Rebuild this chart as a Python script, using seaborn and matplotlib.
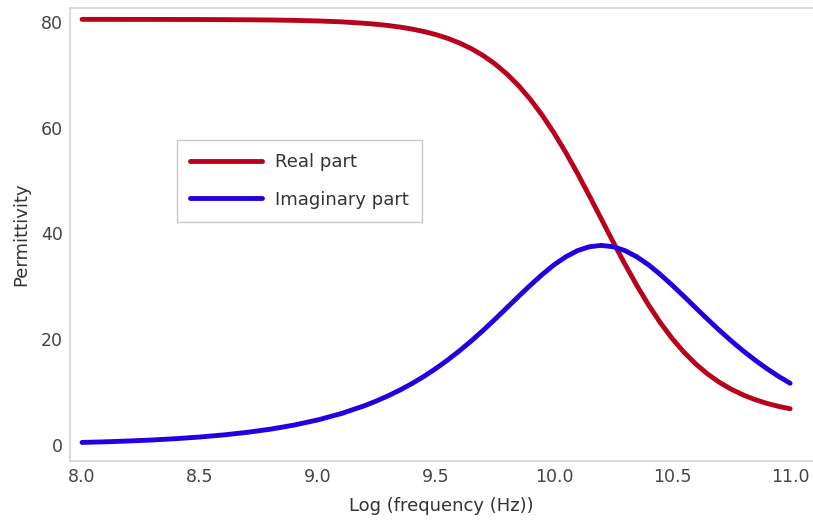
import matplotlib
matplotlib.use("Agg")
import matplotlib.pyplot as plt
import seaborn as sns
import pandas as pd

# Dielectric spectrum of water: real and imaginary permittivity vs log10(frequency)
log_freq = [8.0, 8.1, 8.2, 8.3, 8.4, 8.5, 8.6, 8.7, 8.8, 8.9, 9.0, 9.1, 9.2,
            9.25, 9.3, 9.35, 9.4, 9.45, 9.5, 9.55, 9.6, 9.65, 9.7, 9.75, 9.8,
            9.85, 9.9, 9.95, 10.0, 10.05, 10.1, 10.15, 10.2, 10.25, 10.3, 10.35,
            10.4, 10.45, 10.5, 10.55, 10.6, 10.65, 10.7, 10.75, 10.8, 10.85,
            10.9, 10.95, 11.0]

real_part = [80.50, 80.50, 80.49, 80.49, 80.48, 80.47, 80.45, 80.42, 80.38,
             80.31, 80.20, 80.03, 79.75, 79.56, 79.32, 79.02, 78.65, 78.19,
             77.61, 76.90, 76.02, 74.94, 73.64, 72.06, 70.17, 67.94, 65.34,
             62.36, 59.00, 55.29, 51.29, 47.08, 42.75, 38.42, 34.21, 30.21,
             26.50, 23.14, 20.16, 17.56, 15.33, 13.44, 11.86, 10.56, 9.48,
             8.60, 7.89, 7.31, 6.85]

imag_part = [0.48, 0.60, 0.76, 0.95, 1.20, 1.51, 1.90, 2.39, 3.00, 3.78, 4.75,
             5.96, 7.48, 8.37, 9.36, 10.46, 11.67, 13.01, 14.49, 16.10, 17.84,
             19.71, 21.70, 23.79, 25.95, 28.12, 30.24, 32.25, 34.08, 35.60,
             36.77, 37.50, 37.75, 37.50, 36.77, 35.60, 34.08, 32.25, 30.24,
             28.12, 25.94, 23.79, 21.70, 19.71, 17.84, 16.10, 14.49, 13.01,
             11.67]

series_names = ["Real part", "Imaginary part"]
series_colors = ["#b8021c", "#2000e0"]
x_ticks = [8.0, 8.5, 9.0, 9.5, 10.0, 10.5, 11.0]
y_ticks = [0, 20, 40, 60, 80]

df = pd.DataFrame({
    "logf": log_freq * 2,
    "value": real_part + imag_part,
    "part": [series_names[0]] * len(log_freq) + [series_names[1]] * len(log_freq),
})

sns.set_theme(style="white")
plt.rcParams["font.family"] = ["DejaVu Sans"]

fig = plt.figure(figsize=(8.13, 5.23), dpi=100)
ax = fig.add_axes([70 / 813, 62 / 523, 743 / 813, 453 / 523])

sns.lineplot(data=df, x="logf", y="value", hue="part", hue_order=series_names,
             palette=series_colors, linewidth=3.5, ax=ax, legend=True)

ax.set_xlim(7.949, 11.097)
ax.set_ylim(-3.03, 82.65)
ax.set_xticks(x_ticks)
ax.set_xticklabels([f"{t:.1f}" for t in x_ticks])
ax.set_yticks(y_ticks)
ax.tick_params(axis="both", labelsize=12.5, labelcolor="#444444", length=0, pad=5)

for side in ["left", "bottom", "top"]:
    ax.spines[side].set_color("#d4d4d4")
    ax.spines[side].set_linewidth(1.2)
ax.spines["right"].set_visible(False)

ax.set_xlabel("Log (frequency (Hz))", fontsize=13, color="#333333", labelpad=8)
ax.set_ylabel("Permittivity", fontsize=13, color="#333333", labelpad=8)

leg = ax.legend(loc="upper left", bbox_to_anchor=(0.144, 0.709), borderaxespad=0,
                fontsize=13, frameon=True, fancybox=False, edgecolor="#bbbbbb",
                handlelength=4.0, borderpad=0.72, labelspacing=1.1,
                handletextpad=0.72)
leg.get_frame().set_linewidth(1.0)
for t in leg.get_texts():
    t.set_color("#333333")
for h in leg.get_lines():
    h.set_linewidth(3.5)

fig.savefig("out.png", dpi=100)
